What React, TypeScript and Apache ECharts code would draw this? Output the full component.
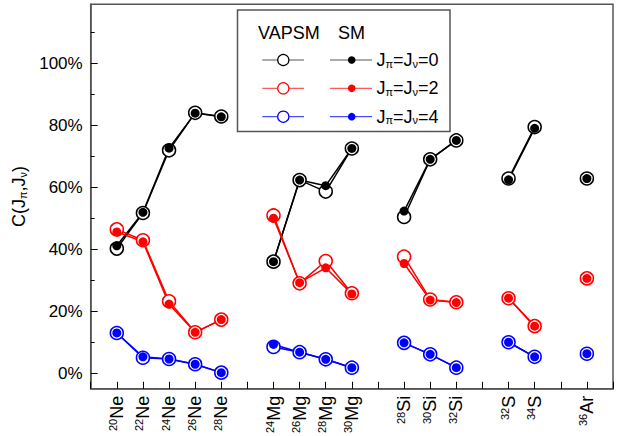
import React, { useEffect, useRef } from "react";
import * as echarts from "echarts";

// Nuclei: [mass number, element]; "" marks gaps between groups
const nuclei: [string, string][] = [
  ["20", "Ne"], ["22", "Ne"], ["24", "Ne"], ["26", "Ne"], ["28", "Ne"],
  ["", ""],
  ["24", "Mg"], ["26", "Mg"], ["28", "Mg"], ["30", "Mg"],
  ["", ""],
  ["28", "Si"], ["30", "Si"], ["32", "Si"],
  ["", ""],
  ["32", "S"], ["34", "S"],
  ["", ""],
  ["36", "Ar"],
];

const yMajorTicks = [0, 20, 40, 60, 80, 100];
const yMinorTicks = [10, 30, 50, 70, 90, 110];

// Values in %, null = gap
const vapsm0 = [40.2, 51.7, 71.9, 84.0, 82.8, null, 36.0, 62.3, 58.6, 72.5, null, 50.4, 69.0, 75.1, null, 62.8, 79.4, null, 62.8];
const sm0 = [41.1, 51.9, 72.6, 83.9, 82.7, null, 36.0, 62.3, 60.5, 72.5, null, 52.3, 69.0, 75.1, null, 62.4, 79.0, null, 62.8];
const vapsm2 = [46.4, 42.9, 23.2, 13.2, 17.3, null, 50.9, 29.0, 36.2, 25.8, null, 37.6, 23.8, 22.9, null, 24.2, 15.2, null, 30.6];
const sm2 = [45.6, 42.4, 22.3, 13.2, 17.3, null, 50.0, 29.2, 34.0, 25.6, null, 35.4, 23.6, 22.8, null, 24.2, 15.2, null, 30.6];
const vapsm4 = [13.0, 5.0, 4.6, 2.9, 0.2, null, 8.5, 6.8, 4.5, 1.8, null, 9.8, 6.1, 1.8, null, 10.0, 5.3, null, 6.3];
const sm4 = [13.0, 5.3, 4.6, 2.9, 0.2, null, 9.3, 6.8, 4.5, 1.8, null, 9.8, 6.1, 1.8, null, 10.0, 5.3, null, 6.3];

const FONT = "Liberation Sans, Arial, Helvetica, sans-serif";

const toPairs = (arr: (number | null)[]) => arr.map((v, i) => [i, v]);

export default function App() {
  const ref = useRef<HTMLDivElement>(null);
  useEffect(() => {
    if (!ref.current) return;
    const chart = echarts.init(ref.current, undefined, { renderer: "svg" });

    const openSeries = (name: string, data: (number | null)[], color: string) => ({
      name,
      type: "line",
      data: toPairs(data),
      connectNulls: false,
      symbol: "circle",
      symbolSize: 13,
      showAllSymbol: true,
      lineStyle: { color, width: 1.5 },
      itemStyle: { color: "#fff", borderColor: color, borderWidth: 1.5 },
      emphasis: { disabled: true },
    });
    const fillSeries = (name: string, data: (number | null)[], color: string) => ({
      name,
      type: "line",
      data: toPairs(data),
      connectNulls: false,
      symbol: "circle",
      symbolSize: 9,
      showAllSymbol: true,
      lineStyle: { color, width: 1.5 },
      itemStyle: { color, borderWidth: 0 },
      emphasis: { disabled: true },
    });

    const subRich = {
      m: { fontSize: 18, fontFamily: FONT, color: "#000" },
      s: { fontSize: 11, fontFamily: FONT, color: "#000", verticalAlign: "bottom" },
    };

    const legendRows = [
      { y: 60, color: "#000", line: "#555", label: "0" },
      { y: 88.3, color: "#ff0000", line: "#ff3030", label: "2" },
      { y: 116.7, color: "#0000ff", line: "#2020ff", label: "4" },
    ];
    const legendEls: any[] = [
      {
        type: "rect",
        shape: { x: 237.5, y: 10, width: 212.5, height: 121.5 },
        style: { fill: "#fff", stroke: "#555", lineWidth: 1.5 },
        z: 100,
      },
      {
        type: "text",
        x: 258,
        y: 33,
        style: { text: "VAPSM", font: `18px ${FONT}`, fill: "#000", verticalAlign: "middle" },
        z: 101,
      },
      {
        type: "text",
        x: 338,
        y: 33,
        style: { text: "SM", font: `18px ${FONT}`, fill: "#000", verticalAlign: "middle" },
        z: 101,
      },
    ];
    legendRows.forEach((r) => {
      legendEls.push(
        { type: "line", shape: { x1: 262.3, y1: r.y, x2: 304, y2: r.y }, style: { stroke: r.line, lineWidth: 1 }, z: 101 },
        { type: "circle", shape: { cx: 283.3, cy: r.y, r: 5.6 }, style: { fill: "#fff", stroke: r.color, lineWidth: 1.2 }, z: 102 },
        { type: "line", shape: { x1: 330, y1: r.y, x2: 372, y2: r.y }, style: { stroke: r.line, lineWidth: 1 }, z: 101 },
        { type: "circle", shape: { cx: 351.7, cy: r.y, r: 3.8 }, style: { fill: r.color }, z: 102 },
        {
          type: "text",
          x: 376.5,
          y: r.y,
          style: {
            text: `{m|J}{s|π}{m|=J}{s|ν}{m|=${r.label}}`,
            rich: subRich,
            verticalAlign: "middle",
          },
          z: 101,
        }
      );
    });

    const option: any = {
      animation: false,
      grid: {
        left: 90.7,
        right: 9,
        top: 4.3,
        bottom: 45,
        show: true,
        borderColor: "#555",
        borderWidth: 1.5,
        containLabel: false,
      },
      xAxis: {
        type: "value",
        min: -1,
        max: 19,
        interval: 1,
        splitLine: { show: false },
        axisLine: { onZero: false, lineStyle: { color: "#555", width: 1.5 } },
        axisTick: { inside: true, length: 7, lineStyle: { color: "#000", width: 1 } },
        axisLabel: {
          rotate: 90,
          margin: 7,
          showMinLabel: true,
          showMaxLabel: true,
          formatter: (v: number) => {
            const n = nuclei[v];
            if (!n || !n[1]) return "";
            return `{s|${n[0]}}{e|${n[1]}}`;
          },
          rich: {
            s: { fontSize: 11, fontFamily: FONT, color: "#000", verticalAlign: "top" },
            e: { fontSize: 18, fontFamily: FONT, color: "#000" },
          },
        },
      },
      yAxis: [
        {
          type: "value",
          min: -5,
          max: 119,
          position: "left",
          splitLine: { show: false },
          axisLine: { show: true, onZero: false, lineStyle: { color: "#555", width: 1.5 } },
          axisTick: {
            show: true,
            inside: true,
            length: 7,
            customValues: yMajorTicks,
            lineStyle: { color: "#000", width: 1 },
          },
          axisLabel: {
            customValues: yMajorTicks,
            formatter: "{value}%",
            fontSize: 17,
            fontFamily: FONT,
            color: "#000",
            margin: 8,
          },
          name: "{m|C(J}{s|π}{m|,J}{s|ν}{m|)}",
          nameLocation: "middle",
          nameRotate: 90,
          nameGap: 62,
          nameTextStyle: { rich: subRich },
        },
        {
          type: "value",
          min: -5,
          max: 119,
          position: "left",
          offset: 0,
          splitLine: { show: false },
          axisLine: { show: false, onZero: false },
          axisLabel: { show: false },
          axisTick: {
            show: true,
            inside: true,
            length: 4,
            customValues: yMinorTicks,
            lineStyle: { color: "#000", width: 1 },
          },
        },
      ],
      series: [
        openSeries("VAPSM J=0", vapsm0, "#000"),
        fillSeries("SM J=0", sm0, "#000"),
        openSeries("VAPSM J=2", vapsm2, "#ff0000"),
        fillSeries("SM J=2", sm2, "#ff0000"),
        openSeries("VAPSM J=4", vapsm4, "#0000ff"),
        fillSeries("SM J=4", sm4, "#0000ff"),
      ],
      graphic: legendEls,
    };
    chart.setOption(option);
    return () => chart.dispose();
  }, []);
  return <div ref={ref} style={{ width: 622, height: 436, position: "absolute", left: 0, top: 0, background: "#fff" }} />;
}
